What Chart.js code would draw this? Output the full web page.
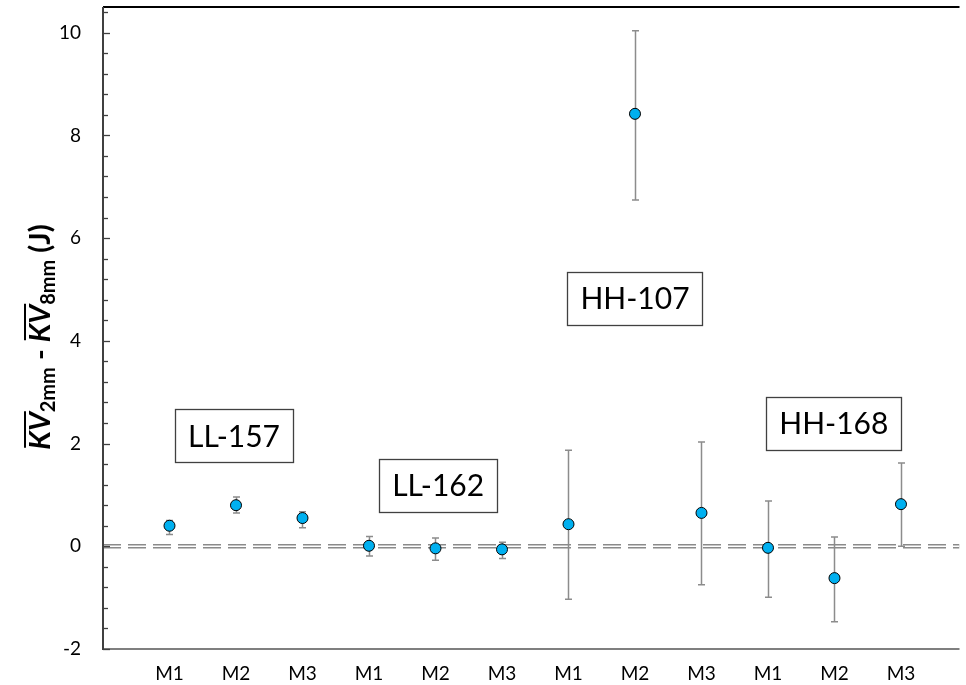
<!DOCTYPE html>
<html lang="en">
<head>
<meta charset="UTF-8">
<title>KV 2mm - KV 8mm</title>
<script src="https://cdn.jsdelivr.net/npm/chart.js"></script>
<style>
    body { margin: 0; background: #fff; }
    #box { width: 966px; height: 685px; }
</style>
</head>
<body>
<div id="box"><canvas id="grafico" width="966" height="685"></canvas></div>
<script>
    // dados
    var categorias = ['M1', 'M2', 'M3', 'M1', 'M2', 'M3', 'M1', 'M2', 'M3', 'M1', 'M2', 'M3']
    var posicoes = [1, 2, 3, 4, 5, 6, 7, 8, 9, 10, 11, 12]
    var valores = [0.40, 0.80, 0.55, 0.01, -0.04, -0.06, 0.43, 8.42, 0.65, -0.03, -0.62, 0.82]
    var erroCima = [0.50, 0.96, 0.67, 0.19, 0.16, 0.08, 1.87, 10.04, 2.03, 0.88, 0.18, 1.62]
    var erroBaixo = [0.23, 0.65, 0.36, -0.19, -0.27, -0.24, -1.03, 6.74, -0.75, -0.99, -1.47, 0.00]
    var yTicks = [-2, 0, 2, 4, 6, 8, 10]
    var linhaZeroX = [0, 12.88]
    var linhaZeroY = [0, 0]

    var grupos = ['LL-157', 'LL-162', 'HH-107', 'HH-168']
    var grupoX = [1.97, 5.04, 8.0, 10.99]
    var grupoY = [2.15, 1.19, 4.82, 2.40]

    var fonte = 'Lato, "Open Sans", sans-serif'

    var pontos = []
    for (var i = 0; i < valores.length; i++) {
        pontos.push({ x: posicoes[i], y: valores[i] })
    }
    var zero = []
    for (var i = 0; i < linhaZeroX.length; i++) {
        zero.push({ x: linhaZeroX[i], y: linhaZeroY[i] })
    }

    // barras de erro, desenhadas antes dos pontos
    var barrasErro = {
        id: 'barrasErro',
        beforeDatasetDraw: function (chart, args) {
            if (args.index != 0) return
            var ctx = chart.ctx
            var sx = chart.scales.x, sy = chart.scales.y
            ctx.save()
            ctx.strokeStyle = '#8c8c8c'
            ctx.lineWidth = 1.5
            for (var i = 0; i < valores.length; i++) {
                var px = Math.round(sx.getPixelForValue(posicoes[i])) + 0.5
                var y1 = sy.getPixelForValue(erroCima[i])
                var y2 = sy.getPixelForValue(erroBaixo[i])
                ctx.beginPath()
                ctx.moveTo(px, y1); ctx.lineTo(px, y2)
                ctx.moveTo(px - 3.5, y1); ctx.lineTo(px + 3.5, y1)
                ctx.moveTo(px - 3.5, y2); ctx.lineTo(px + 3.5, y2)
                ctx.stroke()
            }
            ctx.restore()
        }
    }

    // eixos, ticks menores, caixas de texto e titulo do eixo y
    var extras = {
        id: 'extras',
        afterDraw: function (chart) {
            var ctx = chart.ctx
            var a = chart.chartArea
            var sy = chart.scales.y, sx = chart.scales.x
            ctx.save()

            // borda de cima
            ctx.strokeStyle = '#000'
            ctx.lineWidth = 2
            ctx.beginPath()
            ctx.moveTo(a.left, a.top); ctx.lineTo(a.right, a.top)
            ctx.stroke()

            // eixo x
            ctx.strokeStyle = '#7f7f7f'
            ctx.beginPath()
            ctx.moveTo(a.left, a.bottom); ctx.lineTo(a.right, a.bottom)
            ctx.stroke()

            // eixo y
            ctx.strokeStyle = '#404040'
            ctx.beginPath()
            ctx.moveTo(a.left, a.top); ctx.lineTo(a.left, a.bottom + 1)
            ctx.stroke()

            // ticks maiores e menores
            ctx.lineWidth = 1.3
            for (var v = -2; v <= 10.41; v += 0.4) {
                var py = Math.round(sy.getPixelForValue(v)) + 0.5
                var maior = Math.abs(v / 2 - Math.round(v / 2)) < 0.01
                ctx.beginPath()
                ctx.moveTo(a.left, py); ctx.lineTo(a.left + (maior ? 7 : 5), py)
                ctx.stroke()
            }

            // caixas dos grupos
            ctx.font = '30px ' + fonte
            ctx.textAlign = 'center'
            ctx.textBaseline = 'middle'
            for (var i = 0; i < grupos.length; i++) {
                var cx = sx.getPixelForValue(grupoX[i])
                var cy = sy.getPixelForValue(grupoY[i])
                var w = ctx.measureText(grupos[i]).width + 26
                var h = 53
                ctx.fillStyle = '#fff'
                ctx.fillRect(cx - w / 2, cy - h / 2, w, h)
                ctx.strokeStyle = '#404040'
                ctx.lineWidth = 1.3
                ctx.strokeRect(Math.round(cx - w / 2) + 0.5, Math.round(cy - h / 2) + 0.5, Math.round(w), h)
                ctx.fillStyle = '#000'
                ctx.fillText(grupos[i], cx, cy + 1)
            }

            // titulo do eixo y
            var partes = [
                { t: 'KV', f: 'italic bold 29px ', sub: false, barra: true },
                { t: '2mm', f: 'bold 20px ', sub: true },
                { t: ' - ', f: 'bold 29px ', sub: false },
                { t: 'KV', f: 'italic bold 29px ', sub: false, barra: true },
                { t: '8mm', f: 'bold 20px ', sub: true },
                { t: ' (J)', f: 'bold 29px ', sub: false }
            ]
            var total = 0
            for (var i = 0; i < partes.length; i++) {
                ctx.font = partes[i].f + fonte
                partes[i].w = ctx.measureText(partes[i].t).width
                total += partes[i].w
            }
            ctx.translate(40, 337)
            ctx.rotate(-Math.PI / 2)
            ctx.textAlign = 'left'
            ctx.textBaseline = 'alphabetic'
            ctx.fillStyle = '#000'
            ctx.strokeStyle = '#000'
            var x = -total / 2
            for (var i = 0; i < partes.length; i++) {
                var p = partes[i]
                ctx.font = p.f + fonte
                ctx.fillText(p.t, x, p.sub ? 15 : 10)
                if (p.barra) {
                    ctx.lineWidth = 2
                    ctx.beginPath()
                    ctx.moveTo(x + 2, -15); ctx.lineTo(x + p.w + 1, -15)
                    ctx.stroke()
                }
                x += p.w
            }
            ctx.restore()
        }
    }

    new Chart(document.getElementById('grafico'), {
        type: 'scatter',
        data: {
            datasets: [{
                label: 'dif',
                data: pontos,
                backgroundColor: '#00b0f0',
                borderColor: '#000',
                borderWidth: 1,
                pointRadius: 5.5,
                order: 1
            }, {
                type: 'line',
                label: 'zero',
                data: zero,
                borderColor: '#8a8a8a',
                borderWidth: 4.5,
                borderDash: [18, 7],
                pointRadius: 0,
                order: 3
            }, {
                type: 'line',
                label: 'zero2',
                data: zero,
                borderColor: '#fff',
                borderWidth: 1.4,
                borderDash: [18, 7],
                pointRadius: 0,
                order: 2
            }]
        },
        plugins: [barrasErro, extras],
        options: {
            responsive: false,
            animation: false,
            devicePixelRatio: 1,
            layout: { padding: { top: 7, right: 0, left: 0, bottom: 0 } },
            plugins: { legend: { display: false }, tooltip: { enabled: false } },
            scales: {
                x: {
                    type: 'linear',
                    min: 0,
                    max: 12.88,
                    grid: { display: false, drawTicks: false, tickLength: 0 },
                    border: { display: false },
                    afterBuildTicks: function (s) {
                        s.ticks = posicoes.map(function (p) { return { value: p } })
                    },
                    afterFit: function (s) {
                        s.height = 36
                        s.paddingLeft = 0
                        s.paddingRight = 0
                    },
                    ticks: {
                        autoSkip: false,
                        maxRotation: 0,
                        padding: 13,
                        color: '#000',
                        font: { family: fonte, size: 19 },
                        callback: function (v) { return categorias[v - 1] }
                    }
                },
                y: {
                    min: -2,
                    max: 10.5,
                    grid: { display: false, drawTicks: false, tickLength: 0 },
                    border: { display: false },
                    afterBuildTicks: function (s) {
                        s.ticks = yTicks.map(function (t) { return { value: t } })
                    },
                    afterFit: function (s) {
                        s.width = 103
                        s.paddingTop = 0
                        s.paddingBottom = 0
                    },
                    ticks: {
                        padding: 22,
                        color: '#000',
                        font: { family: fonte, size: 19 }
                    }
                }
            }
        }
    })
</script>
</body>
</html>
